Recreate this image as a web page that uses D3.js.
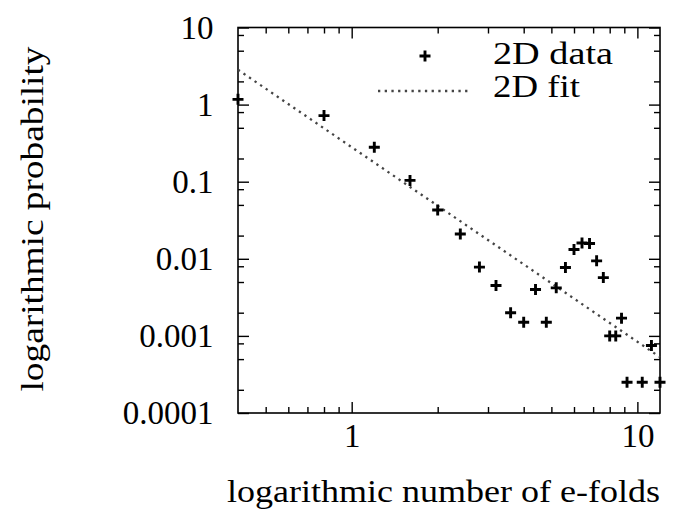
<!DOCTYPE html>
<html><head><meta charset="utf-8">
<script src="https://cdn.jsdelivr.net/npm/d3@7"></script>
<style>body{margin:0;background:#fff}</style>
</head><body>
<svg id="c" width="676" height="514"></svg>
<script>
const xValues = [0.4, 0.8, 1.2, 1.6, 2.0, 2.4, 2.8, 3.2, 3.6, 4.0, 4.4, 4.8, 5.2, 5.6, 6.0, 6.4, 6.8, 7.2, 7.6, 8.0, 8.4, 8.8, 9.2, 10.4, 11.2, 12.0];
const yValues = [1.17, 0.72, 0.28, 0.104, 0.043, 0.021, 0.0078, 0.0045, 0.002, 0.0015, 0.004, 0.0015, 0.0042, 0.0077, 0.0132, 0.016, 0.0158, 0.0094, 0.0057, 0.001, 0.001, 0.0017, 0.00025, 0.00025, 0.00075, 0.00025];
const fitX = [0.4, 12];
const fitY = [2.83, 0.00053];
const xMajorTicks = [1, 10];
const xTickLabels = ["1", "10"];
const xMinorTicks = [0.5, 0.6, 0.7, 0.8, 0.9, 2, 3, 4, 5, 6, 7, 8, 9];
const yMajorTicks = [10, 1, 0.1, 0.01, 0.001, 0.0001];
const yTickLabels = ["10", "1", "0.1", "0.01", "0.001", "0.0001"];
const yMinorTicks = [8, 5, 2, 0.8, 0.5, 0.2, 0.08, 0.05, 0.02, 0.008, 0.005, 0.002, 0.0008, 0.0005, 0.0002];
const legendLabels = ["2D data", "2D fit"];
const xTitle = "logarithmic number of e-folds";
const yTitle = "logarithmic probability";

const L = 238, R = 660, T = 27.5, B = 413;
const x = d3.scaleLog().domain([0.4, 12]).range([L, R]);
const y = d3.scaleLog().domain([1e-4, 10]).range([B, T]);
const svg = d3.select("#c");
const font = "'Liberation Serif', 'Times New Roman', serif";

function ax(gen, tf, ticks, size, labels) {
  gen.tickValues(ticks).tickSize(size).tickFormat(labels ? (d, i) => labels[i] : "");
  const g = svg.append("g").attr("transform", tf).call(gen);
  g.select(".domain").remove();
  g.selectAll("line").attr("stroke", "#000").attr("stroke-width", 1.4);
  g.selectAll("text").attr("font-family", font).attr("font-size", 33).attr("fill", "#000");
  return g;
}
const gb = ax(d3.axisBottom(x), `translate(0,${B})`, xMajorTicks, -11, xTickLabels);
gb.selectAll("text").attr("y", 34).attr("dy", 0);
ax(d3.axisBottom(x), `translate(0,${B})`, xMinorTicks, -6);
ax(d3.axisTop(x), `translate(0,${T})`, xMajorTicks, -11);
ax(d3.axisTop(x), `translate(0,${T})`, xMinorTicks, -6);
const gl = ax(d3.axisLeft(y), `translate(${L},0)`, yMajorTicks, -11, yTickLabels);
gl.selectAll("text").attr("x", 213.5 - L).attr("dy", "0.33em").attr("text-anchor", "end");
ax(d3.axisLeft(y), `translate(${L},0)`, yMinorTicks, -6);
ax(d3.axisRight(y), `translate(${R},0)`, yMajorTicks, -11);
ax(d3.axisRight(y), `translate(${R},0)`, yMinorTicks, -6);

svg.append("rect").attr("x", L).attr("y", T).attr("width", R - L).attr("height", B - T)
  .attr("fill", "none").attr("stroke", "#000").attr("stroke-width", 1.6);

// fit line
const line = d3.line().x(d => x(d[0])).y(d => y(d[1]));
svg.append("path").datum(d3.zip(fitX, fitY)).attr("d", line)
  .attr("fill", "none").attr("stroke", "#444").attr("stroke-width", 2.3).attr("stroke-dasharray", "2.3,4.4");

// data markers
const plus = "M-5.5,0H5.5M0,-5.5V5.5";
svg.append("g").selectAll("path").data(d3.zip(xValues, yValues)).join("path")
  .attr("transform", d => `translate(${x(d[0])},${y(d[1])})`)
  .attr("d", plus).attr("stroke", "#000").attr("stroke-width", 2.9).attr("fill", "none");

// legend
svg.append("path").attr("transform", "translate(425,56)").attr("d", plus)
  .attr("stroke", "#000").attr("stroke-width", 2.9).attr("fill", "none");
svg.append("line").attr("x1", 378).attr("x2", 468).attr("y1", 91).attr("y2", 91)
  .attr("stroke", "#444").attr("stroke-width", 2.3).attr("stroke-dasharray", "2.3,4.4");
svg.append("text").attr("x", 493).attr("y", 64).text(legendLabels[0])
  .attr("font-family", font).attr("font-size", 32).attr("textLength", 120).attr("lengthAdjust", "spacingAndGlyphs");
svg.append("text").attr("x", 493).attr("y", 97).text(legendLabels[1])
  .attr("font-family", font).attr("font-size", 32).attr("textLength", 87).attr("lengthAdjust", "spacingAndGlyphs");

// titles
svg.append("text").attr("x", 443.5).attr("y", 502).attr("text-anchor", "middle").text(xTitle)
  .attr("font-family", font).attr("font-size", 32).attr("textLength", 433).attr("lengthAdjust", "spacingAndGlyphs");
svg.append("text").attr("transform", "translate(43,219) rotate(-90)").attr("text-anchor", "middle").text(yTitle)
  .attr("font-family", font).attr("font-size", 32).attr("textLength", 345).attr("lengthAdjust", "spacingAndGlyphs");
</script>
</body></html>
